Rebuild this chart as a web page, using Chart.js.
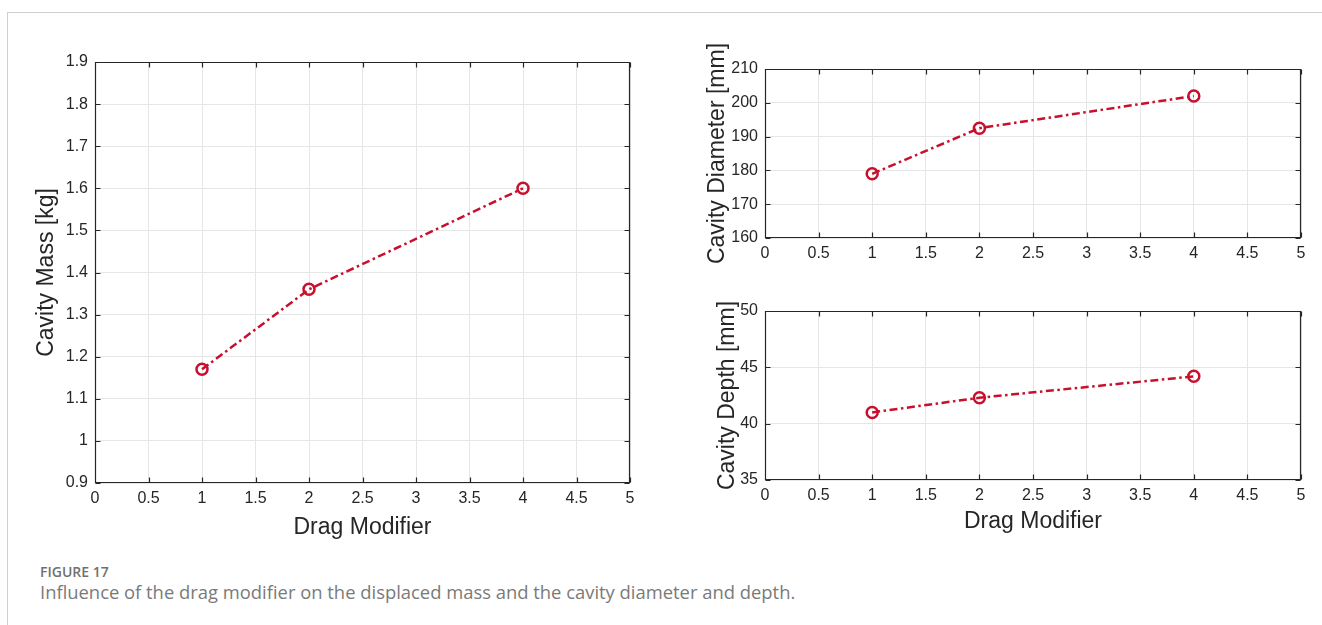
<!DOCTYPE html>
<html>
<head>
<meta charset="utf-8">
<script src="https://cdn.jsdelivr.net/npm/chart.js@4/dist/chart.umd.min.js"></script>
<style>
  html, body { margin: 0; padding: 0; background: #fff; width: 1322px; height: 625px; overflow: hidden; }
  #frame { position: absolute; left: 7px; top: 12px; right: 0; bottom: 0; border-top: 1px solid #cfcfcf; border-left: 1px solid #cfcfcf; }
  canvas { position: absolute; }
  #fig { position: absolute; left: 40px; top: 562px; font-family: "Open Sans", sans-serif; font-weight: 600; font-size: 14px; color: #707070; }
  #cap { position: absolute; left: 40px; top: 579px; font-family: "Open Sans", sans-serif; font-size: 18.4px; color: #7a7a7a; white-space: nowrap; }
</style>
</head>
<body>
<div id="frame"></div>
<canvas id="cMass" width="660" height="560" style="left:0px;top:0px;width:660px;height:560px"></canvas>
<canvas id="cDiam" width="652" height="280" style="left:670px;top:0px;width:652px;height:280px"></canvas>
<canvas id="cDepth" width="652" height="280" style="left:670px;top:280px;width:652px;height:280px"></canvas>
<div id="fig">FIGURE 17</div>
<div id="cap">Influence of the drag modifier on the displaced mass and the cavity diameter and depth.</div>
<script>
// ---- data ----
const dragModifier = [1, 2, 4];
const cavityMass = [1.17, 1.36, 1.60];
const cavityDiameter = [179.0, 192.5, 202.0];
const cavityDepth = [41.0, 42.3, 44.2];

const xAxisTitle = "Drag Modifier";
const massTitle = "Cavity Mass [kg]";
const diamTitle = "Cavity Diameter [mm]";
const depthTitle = "Cavity Depth [mm]";

const xRange = [0, 5, 0.5];
const massRange = [0.9, 1.9, 0.1];
const diamRange = [160, 210, 10];
const depthRange = [35, 50, 5];

// ---- styling ----
const lineColor = "#c8102e";
const textColor = "#262626";
const gridColor = "#e6e6e6";
const tickFont = { family: "'Liberation Sans', Arial, Helvetica, sans-serif", size: 16 };
const titleFont = { family: "'Liberation Sans', Arial, Helvetica, sans-serif", size: 23 };

const fmt = v => String(parseFloat(Number(v).toFixed(3)));

const boxPlugin = {
  id: 'matlabBox',
  afterDatasetsDraw(chart) {
    const { ctx, chartArea: a, scales } = chart;
    const L = Math.round(a.left) + 0.5, R = Math.round(a.right) - 0.5;
    const T = Math.round(a.top) + 0.5, B = Math.round(a.bottom) - 0.5;
    const tl = chart.options.plugins.matlabBox.tickLen;
    ctx.save();
    ctx.strokeStyle = textColor;
    ctx.lineWidth = 1.2;
    ctx.beginPath();
    ctx.rect(L, T, R - L, B - T);
    scales.x.ticks.forEach(t => {
      const px = Math.round(scales.x.getPixelForValue(t.value)) + 0.5;
      ctx.moveTo(px, B); ctx.lineTo(px, B - tl);
      ctx.moveTo(px, T); ctx.lineTo(px, T + tl);
    });
    scales.y.ticks.forEach(t => {
      const py = Math.round(scales.y.getPixelForValue(t.value)) + 0.5;
      ctx.moveTo(L, py); ctx.lineTo(L + tl, py);
      ctx.moveTo(R, py); ctx.lineTo(R - tl, py);
    });
    ctx.stroke();
    ctx.restore();
  }
};

function makeChart(id, yVals, yRange, yTitle, cfg) {
  const points = dragModifier.map((x, i) => ({ x, y: yVals[i] }));
  return new Chart(document.getElementById(id), {
    type: 'line',
    data: {
      datasets: [{
        data: points,
        borderColor: lineColor,
        borderWidth: 2.5,
        borderDash: [8, 3.5, 2.5, 3.5],
        tension: 0,
        pointStyle: 'circle',
        pointRadius: 5.5,
        pointBorderWidth: 2.5,
        pointBorderColor: lineColor,
        pointBackgroundColor: 'rgba(0,0,0,0)',
        fill: false
      }]
    },
    options: {
      responsive: false,
      animation: false,
      devicePixelRatio: 1,
      layout: { padding: cfg.padding },
      plugins: {
        legend: { display: false },
        tooltip: { enabled: false },
        matlabBox: { tickLen: cfg.tickLen }
      },
      scales: {
        x: {
          type: 'linear',
          min: xRange[0], max: xRange[1],
          grid: { color: gridColor, drawTicks: false },
          border: { display: false },
          ticks: { stepSize: xRange[2], autoSkip: false, maxRotation: 0, padding: 6, color: textColor, font: tickFont, callback: fmt },
          title: { display: cfg.xTitle, text: xAxisTitle, color: textColor, font: titleFont, padding: { top: 0, bottom: cfg.xTitlePad } },
          afterFit: s => { s.height = cfg.xHeight; }
        },
        y: {
          type: 'linear',
          min: yRange[0], max: yRange[1],
          grid: { color: gridColor, drawTicks: false },
          border: { display: false },
          ticks: { stepSize: yRange[2], autoSkip: false, padding: 7, color: textColor, font: tickFont, callback: fmt },
          title: { display: true, text: yTitle, color: textColor, font: titleFont, padding: { top: cfg.yTitlePad, bottom: 0 } },
          afterFit: s => { s.width = cfg.yWidth; }
        }
      }
    },
    plugins: [boxPlugin]
  });
}

makeChart('cMass', cavityMass, massRange, massTitle, {
  padding: { top: 62, right: 30, left: 0, bottom: 0 },
  yWidth: 95, xHeight: 77, yTitlePad: 33, xTitle: true, xTitlePad: 19, tickLen: 5
});
makeChart('cDiam', cavityDiameter, diamRange, diamTitle, {
  padding: { top: 69, right: 21, left: 0, bottom: 0 },
  yWidth: 95, xHeight: 42, yTitlePad: 34, xTitle: false, xTitlePad: 0, tickLen: 5
});
makeChart('cDepth', cavityDepth, depthRange, depthTitle, {
  padding: { top: 31, right: 21, left: 0, bottom: 0 },
  yWidth: 95, xHeight: 80, yTitlePad: 44, xTitle: true, xTitlePad: 25, tickLen: 5
});
</script>
</body>
</html>
